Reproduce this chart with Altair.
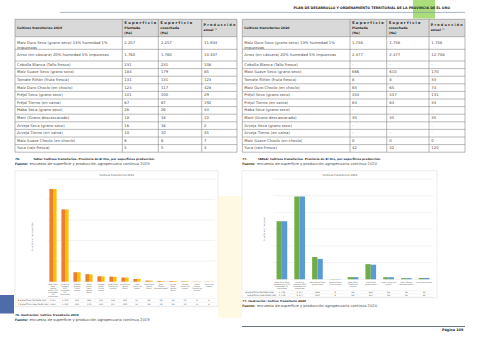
import altair as alt
import pandas as pd

FONT = "DejaVu Sans"

# ------------------------------------------------------------------ DATA
cultivos = [
    "Maíz Duro Seco (grano seco) 13% humedad 1% impurezas",
    "Arroz (en cáscara) 20% humedad 5% impurezas",
    "Cebolla Blanca (Tallo fresco)",
    "Maíz Suave Seco (grano seco)",
    "Tomate Riñón (fruta fresca)",
    "Maíz Duro Choclo (en choclo)",
    "Fréjol Seco (grano seco)",
    "Fréjol Tierno (en vaina)",
    "Haba Seca (grano seco)",
    "Maní (Grano descascarado)",
    "Arveja Seca (grano seco)",
    "Arveja Tierno (en vaina)",
    "Maíz Suave Choclo (en choclo)",
    "Yuca (raíz fresca)",
]
plantada_2019 = [2257, 1760, 231, 184, 131, 124, 101, 67, 26, 18, 16, 10, 6, 5]
cosechada_2019 = [2257, 1760, 231, 179, 131, 117, 100, 67, 26, 18, 16, 10, 6, 5]
produccion_2019 = [11934, 10307, 108, 85, 123, 428, 29, 192, 44, 10, 2, 45, 7, 4]
plantada_2020 = [1738, 2477, None, 666, 8, 65, 453, 64, None, 35, None, None, 0, 42]
cosechada_2020 = [1738, 2477, None, 610, 8, 65, 437, 64, None, 35, None, None, 0, 42]
produccion_2020 = [1738, 12708, None, 170, 33, 74, 131, 33, None, 35, None, None, 0, 120]

etiquetas_2019 = [
    "Maíz Duro|Seco|(grano|seco) 13%|humedad|1%|impurezas",
    "Arroz (en|cáscara)|20%|humedad|5%|impurezas",
    "Cebolla|Blanca|(Tallo|fresco)",
    "Maíz|Suave|Seco|(grano|seco)",
    "Tomate|Riñón|(fruta|fresca)",
    "Maíz Duro|Choclo (en|choclo)",
    "Fréjol Seco|(grano|seco)",
    "Fréjol|Tierno (en|vaina)",
    "Haba Seca|(grano|seco)",
    "Maní|(Grano|descascarado)",
    "Arveja|Seca|(grano|seco)",
    "Arveja|Tierno (en|vaina)",
    "Maíz|Suave|Choclo (en|choclo)",
    "Yuca (raíz|fresca)",
]
etiquetas_2020 = [
    "Maíz Duro Seco|(grano seco) 13%|humedad 1%|impurezas",
    "Arroz (en|cáscara) 20%|humedad 5%|impurezas",
    "Maíz Suave Seco|(grano seco)",
    "Tomate Riñón|(fruta fresca)",
    "Maíz Duro|Choclo (en|choclo)",
    "Fréjol Seco|(grano seco)",
    "Fréjol Tierno (en|vaina)",
    "Maní (Grano|descascarado)",
    "Yuca (raíz fresca)",
]
ticks_2019 = [0, 500, 1000, 1500, 2000, 2500]
ticks_2020 = [0, 500, 1000, 1500, 2000, 2500, 3000]
series = ["Superficie Plantada (Ha)", "Superficie cosechada (Ha)"]

# ------------------------------------------------------------------ LAYOUT
W, H = 480, 339
TXT = "#4a4a4a"
DARK = "#262626"
CH = "#595959"
LINE = "#8a8a8a"

t1x = [15, 122.3, 158.3, 201.7, 237]
t2x = [242.3, 350, 386.7, 429, 465]
row_edges = [19.3, 36.7, 49.3, 61.0] + [61.0 + 7.6 * (i + 1) for i in range(12)]


def fmt(v):
    if v is None:
        return "-"
    return f"{v:,}".replace(",", ".")


def wrap_name(s, limit=46):
    if len(s) <= limit:
        return s
    cut = s.rfind(" ", 0, limit)
    return s[:cut] + "|" + s[cut + 1:]


def enc_xy():
    return dict(x=alt.X("x:Q", scale=None, axis=None), y=alt.Y("y:Q", scale=None, axis=None))


def text_layer(items, align="left", weight="normal", angle=0, line_height=4.7):
    df = pd.DataFrame(items, columns=["x", "y", "text", "s", "c"])
    return alt.Chart(df).mark_text(
        align=align, baseline="middle", fontWeight=weight, font=FONT,
        angle=angle, lineBreak="|", lineHeight=line_height,
    ).encode(
        **enc_xy(),
        text=alt.Text("text:N"),
        size=alt.Size("s:Q", scale=None, legend=None),
        color=alt.Color("c:N", scale=None, legend=None),
    )


def rule_layer(items):
    df = pd.DataFrame(items, columns=["x", "y", "x2", "y2", "c", "w"])
    return alt.Chart(df).mark_rule().encode(
        **enc_xy(), x2="x2:Q", y2="y2:Q",
        color=alt.Color("c:N", scale=None, legend=None),
        strokeWidth=alt.StrokeWidth("w:Q", scale=None, legend=None),
    )


def rect_layer(items, stroke=None, sw=0.0):
    df = pd.DataFrame(items, columns=["x", "y", "x2", "y2", "c", "o"])
    kw = dict(stroke=stroke, strokeWidth=sw) if stroke else {}
    return alt.Chart(df).mark_rect(**kw).encode(
        **enc_xy(), x2="x2:Q", y2="y2:Q",
        color=alt.Color("c:N", scale=None, legend=None),
        opacity=alt.Opacity("o:Q", scale=None, legend=None),
    )


left_normal, left_bold, right_bold, center_normal, rotated = [], [], [], [], []
rules, fills = [], []

# page header
right_bold.append((450, 7.6, "PLAN DE DESARROLLO Y ORDENAMIENTO TERRITORIAL DE LA PROVINCIA DE EL ORO", 3.3, DARK))
rules.append((60, 12.4, 465, 12.4, "#8496b0", 0.7))
fills.append((413, 0, 435, 18.5, "#8fd14f", 0.75))

# tables
tables = [
    (t1x, "2019", plantada_2019, cosechada_2019, produccion_2019),
    (t2x, "2020", plantada_2020, cosechada_2020, produccion_2020),
]
for xs, year, pl, co, pr in tables:
    fills.append((xs[0], row_edges[0], xs[-1], row_edges[1], "#d9d9d9", 1))
    for e in row_edges:
        rules.append((xs[0], e, xs[-1], e, LINE, 0.6))
    for xv in xs:
        rules.append((xv, row_edges[0], xv, row_edges[-1], LINE, 0.6))
    hy = (row_edges[0] + row_edges[1]) / 2
    left_bold.append((xs[0] + 2, hy, f"Cultivos transitorios {year}", 3.1, DARK))
    left_bold.append((xs[1] + 2, 23.4, "S u p e r f i c i e", 3.6, DARK))
    left_bold.append((xs[1] + 2, 28.1, "Plantada", 3.2, DARK))
    left_bold.append((xs[1] + 2, 32.6, "(Ha)", 3.2, DARK))
    left_bold.append((xs[2] + 2, 23.4, "S u p e r f i c i e", 3.6, DARK))
    left_bold.append((xs[2] + 2, 28.1, "cosechada", 3.2, DARK))
    left_bold.append((xs[2] + 2, 32.6, "(Ha)", 3.2, DARK))
    left_bold.append((xs[3] + 1.8, 25.4, "P r o d u c c i ó n", 3.4, DARK))
    left_bold.append((xs[3] + 1.8, 30.0, "anual ™", 3.2, DARK))
    for i, name in enumerate(cultivos):
        yy = (row_edges[i + 1] + row_edges[i + 2]) / 2
        left_normal.append((xs[0] + 2, yy, wrap_name(name), 3.8, TXT))
        left_normal.append((xs[1] + 2, yy, fmt(pl[i]), 3.8, TXT))
        left_normal.append((xs[2] + 2.6, yy, fmt(co[i]), 3.8, TXT))
        left_normal.append((xs[3] + 2.3, yy, fmt(pr[i]), 3.8, TXT))

# table captions
left_bold += [
    (15, 159, "76.", 2.9, DARK),
    (33.3, 159, "Tabla: Cultivos transitorios. Provincia de El Oro, por superficies producción.", 2.85, DARK),
    (242.3, 159, "77.", 2.9, DARK),
    (257.7, 159, "TABLA: Cultivos transitorios. Provincia de El Oro, por superficies producción.", 2.85, DARK),
    (15, 164.2, "Fuente:", 3.0, DARK),
    (242.3, 164.2, "Fuente:", 3.0, DARK),
    (15, 314.3, "76. Ilustración: Cultivo Transitorio 2019", 2.85, DARK),
    (15, 319.5, "Fuente:", 3.0, DARK),
    (242.3, 301.0, "77. Ilustración: Cultivo Transitorio 2020", 2.85, DARK),
    (242.3, 306.2, "Fuente:", 3.0, DARK),
]
left_normal += [
    (29.5, 164.2, "encuesta de superficie y producción agropecuaria continua 2019", 3.7, TXT),
    (257.0, 164.2, "encuesta de superficie y producción agropecuaria continua 2020", 3.7, TXT),
    (29.5, 319.5, "encuesta de superficie y producción agropecuaria continua 2019", 3.7, TXT),
    (257.0, 306.2, "encuesta de superficie y producción agropecuaria continua 2020", 3.7, TXT),
]

# footer
rules.append((242, 326.5, 465, 326.5, "#44546a", 0.8))
right_bold.append((463.3, 329.8, "Página 109", 3.4, DARK))
fills.append((0, 295, 14, 313.5, "#4e6bab", 1))

# watermark tint and chart boxes
fills.append((218, 196, 242, 318, "#fbefb0", 0.35))
boxes = [
    (15, 170.7, 218, 306.7, "#ffffff", 1),
    (242, 170.7, 437, 297.7, "#ffffff", 1),
]

# chart annotations (titles, axis titles, data-table row labels)
center_normal += [
    (116.7, 174.6, "Cultivos transitorios 2019", 2.7, CH),
    (340.0, 174.6, "Cultivos transitorios 2020", 2.7, CH),
]
rotated += [
    (32.3, 236.7, "Superficie en hectáreas (Ha)", 2.0, CH),
    (264.0, 229.0, "Superficie en hectáreas", 2.0, CH),
]
key_colors = {"2019": ["#ed7d31", "#ffc000"], "2020": ["#70ad47", "#5b9bd5"]}
dt_rows = {"2019": (18.0, [300.3, 304.0], 17, 215), "2020": (245.5, [292.3, 295.3], 245, 433)}
for yr, (lx, ys_, gx0, gx1) in dt_rows.items():
    step = ys_[1] - ys_[0]
    for k, (s, yy) in enumerate(zip(series, ys_)):
        fills.append((lx, yy - 0.6, lx + 1.2, yy + 0.6, key_colors[yr][k], 1))
        left_normal.append((lx + 1.8, yy, s, 2.2, CH))
    for yy in [ys_[0] - step / 2, ys_[0] + step / 2, ys_[1] + step / 2]:
        rules.append((gx0, yy, gx1, yy, "#d9d9d9", 0.3))


# ------------------------------------------------------------------ BAR CHARTS
def bar_group(cats, labels, plant, cose, colors, ticks, xr, yr, lab_y, lab_lh, dt_y):
    n = len(cats)
    long = pd.DataFrame({
        "cat": cats * 2,
        "serie": [series[0]] * n + [series[1]] * n,
        "v": plant + cose,
    })
    long["lbl"] = [fmt(v) for v in long["v"]]
    xs = alt.Scale(domain=cats, range=list(xr), paddingInner=0.4, paddingOuter=0.2)
    ys = alt.Scale(domain=[ticks[0], ticks[-1]], range=list(yr), nice=False)
    X = alt.X("cat:N", scale=xs, axis=None, sort=cats)
    grid = alt.Chart(pd.DataFrame({"t": ticks})).mark_rule(color="#d9d9d9", strokeWidth=0.35).encode(
        y=alt.Y("t:Q", scale=ys, axis=alt.Axis(
            orient="left", offset=-xr[0], values=ticks, grid=False, domain=False, ticks=False,
            labelFontSize=2.5, labelColor=CH, labelFont=FONT, labelPadding=1.8,
            labelExpr="replace(format(datum.value, ','), ',', '.')", title=None)),
        x=alt.value(xr[0]), x2=alt.value(xr[1]),
    )
    bars = alt.Chart(long).mark_bar().encode(
        x=X,
        xOffset=alt.XOffset("serie:N", sort=series, scale=alt.Scale(paddingInner=0, paddingOuter=0)),
        y=alt.Y("v:Q", scale=ys, axis=None),
        color=alt.Color("serie:N", scale=alt.Scale(domain=series, range=colors), legend=None),
    )
    catlab = alt.Chart(pd.DataFrame({"cat": cats, "lab": labels})).mark_text(
        lineBreak="|", baseline="top", fontSize=1.9, lineHeight=lab_lh, color=CH, font=FONT,
    ).encode(x=X, y=alt.value(lab_y), text="lab:N")
    dts = []
    for s, yy in zip(series, dt_y):
        dts.append(alt.Chart(long[long["serie"] == s]).mark_text(
            fontSize=2.2, color=CH, font=FONT, baseline="middle",
        ).encode(x=X, y=alt.value(yy), text="lbl:N"))
    return alt.layer(grid, bars, catlab, *dts)


g19 = bar_group(cultivos, etiquetas_2019, plantada_2019, cosechada_2019,
                key_colors["2019"], ticks_2019, (47, 215), (281.7, 179.0), 283.2, 2.05,
                dt_rows["2019"][1])

idx20 = [i for i, v in enumerate(plantada_2020) if v is not None and v > 0]
g20 = bar_group([cultivos[i] for i in idx20], etiquetas_2020,
                [plantada_2020[i] for i in idx20], [cosechada_2020[i] for i in idx20],
                key_colors["2020"], ticks_2020, (273, 433), (279.3, 179.0), 280.7, 1.95,
                dt_rows["2020"][1])

layers = [
    rect_layer(fills[-1:]),
    rect_layer(boxes, stroke="#d9d9d9", sw=0.5),
    rect_layer(fills[:-1]),
    rule_layer(rules),
    text_layer(left_normal),
    text_layer(left_bold, weight="bold"),
    text_layer(right_bold, align="right", weight="bold"),
    text_layer(center_normal, align="center"),
    text_layer(rotated, align="center", angle=270),
    g19,
    g20,
]

chart = alt.layer(*layers).resolve_scale(
    x="independent", y="independent", xOffset="independent", color="independent"
).properties(
    width=W, height=H, padding=0,
    autosize=alt.AutoSizeParams(type="none"),
    background="white",
).configure_view(stroke=None)

chart.save("out.html", embed_options={"renderer": "svg", "actions": False})
